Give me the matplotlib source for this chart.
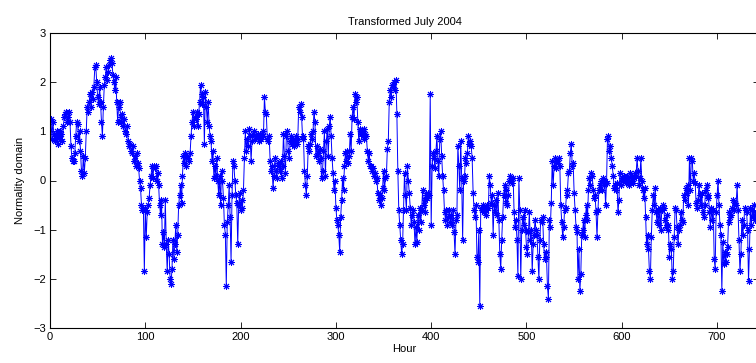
import numpy as np
import matplotlib
matplotlib.use("Agg")
import matplotlib.pyplot as plt

plt.rcParams['font.family'] = ['Liberation Sans', 'DejaVu Sans']

title = "Transformed July 2004"
xlabel = "Hour"
ylabel = "Normality domain"
xticks = [0, 100, 200, 300, 400, 500, 600, 700]
yticks = [-3, -2, -1, 0, 1, 2, 3]

# hourly values, one row per day (24 h each)
d00 = [1.25, 0.85, 1.2, 0.95, 0.8, 0.9, 1.0, 0.75, 0.9, 0.85, 1.0, 0.95, 0.8, 1.1, 1.3, 1.35, 1.4, 1.2, 1.3, 1.4, 1.2, 0.7, 0.45, 0.4]
d01 = [0.4, 0.55, 0.9, 1.2, 1.15, 0.8, 1.0, 0.6, 0.2, 0.1, 0.5, 0.15, 0.45, 1.0, 1.5, 1.4, 1.6, 1.75, 1.5, 1.8, 1.65, 1.9, 2.3, 2.35]
d02 = [2.0, 1.7, 1.55, 1.9, 1.6, 1.2, 0.9, 1.5, 1.95, 2.1, 2.3, 2.05, 2.2, 2.35, 2.45, 2.5, 2.4, 2.15, 2.0, 1.85, 2.1, 1.6, 1.2, 1.5]
d03 = [1.6, 1.3, 1.2, 1.35, 1.1, 1.25, 1.0, 0.95, 1.1, 0.8, 0.7, 0.75, 0.6, 0.55, 0.7, 0.4, 0.5, 0.3, 0.55, 0.35, 0.25, 0.0, -0.15, -0.5]
d04 = [-0.6, -0.55, -1.85, -0.6, -1.15, -0.65, -0.5, -0.35, -0.1, 0.1, 0.3, 0.05, 0.3, 0.25, 0.3, 0.0, 0.15, -0.1, -0.5, -0.7, -0.4, -1.3, -1.05, -1.35]
d05 = [-0.4, -1.3, -1.85, -1.2, -1.5, -2.0, -2.1, -1.8, -1.2, -1.6, -1.3, -0.9, -1.45, -1.1, -0.5, -0.3, -0.1, -0.45, 0.1, 0.5, 0.35, 0.55, 0.3, 0.5]
d06 = [0.45, 0.4, 0.55, 0.9, 1.2, 1.4, 1.1, 1.3, 1.25, 1.4, 1.1, 1.35, 1.6, 1.95, 1.75, 1.55, 1.7, 0.75, 1.8, 1.5, 1.2, 1.6, 1.1, 0.9]
d07 = [0.8, 0.4, 0.6, 0.05, 0.3, 0.1, 0.45, 0.0, -0.3, 0.1, -0.5, 0.2, 0.0, -0.35, -0.9, -1.1, -2.15, -0.85, -0.5, -0.1, -0.75, -1.65, -0.3, 0.4]
d08 = [0.3, 0.0, -0.3, -0.45, -1.3, -0.5, -0.25, -0.6, -0.4, -0.55, -0.2, 0.45, 1.0, 0.6, 0.85, 0.7, 1.05, 0.9, 0.4, 0.8, 0.95, 1.0, 0.85, 0.9]
d09 = [0.9, 0.95, 0.8, 0.9, 0.85, 0.95, 1.0, 0.9, 1.7, 1.4, 1.35, 0.85, 0.8, 0.9, 0.4, 0.2, 0.3, -0.15, 0.1, 0.45, 0.2, 0.05, 0.35, 0.3]
d10 = [0.2, 0.4, 0.05, 0.3, 0.95, 0.5, 0.15, 0.9, 1.0, 0.6, 0.45, 0.8, 0.9, 0.75, 0.85, 0.7, 0.8, 0.9, 0.75, 0.85, 1.5, 1.4, 1.55, 1.3]
d11 = [0.9, 0.85, 0.2, -0.1, -0.3, 0.1, 0.7, 0.6, 0.75, 0.95, 0.85, 1.0, 1.4, 1.2, 0.5, 0.7, 0.55, 0.4, 0.65, 0.45, 0.05, 0.2, 0.6, 1.0]
d12 = [0.1, 0.8, 1.05, 0.5, 1.1, 1.3, 0.9, 0.45, 0.15, -0.2, 0.0, -0.55, -0.8, -0.9, -1.1, -1.45, -0.75, -0.4, 0.05, -0.2, 0.3, 0.55, 0.4, 0.6]
d13 = [0.35, 0.5, 0.95, 0.6, 1.3, 1.5, 1.25, 1.75, 1.6, 1.7, 1.2, 0.8, 1.05, 0.95, 1.0, 0.9, 1.05, 0.85, 0.95, 0.9, 0.6, 0.4, 0.55, 0.3]
d14 = [0.3, 0.2, 0.25, 0.1, 0.15, 0.0, 0.05, -0.25, -0.4, -0.3, -0.5, -0.35, -0.15, 0.2, -0.2, 0.05, 0.1, 0.65, 0.8, 1.6, 1.85, 1.7, 1.95, 1.9]
d15 = [2.0, 1.85, 2.05, 1.35, 0.2, -0.6, -0.9, -1.2, -1.5, -1.3, -0.6, 0.15, -0.3, -0.6, 0.3, 0.0, -0.25, -0.55, -0.9, -0.7, -0.6, -0.85, -1.3, -0.95]
d16 = [-1.25, -0.7, -1.0, -0.55, -0.85, -0.6, -0.2, -0.5, -0.4, -0.65, -0.3, -0.35, -0.25, -0.3, 1.75, -0.9, 0.3, 0.55, 0.45, 0.25, 0.6, 0.9, 0.4, 0.1]
d17 = [0.85, 1.0, 0.5, 0.1, -0.2, -0.65, -0.8, -0.6, -0.9, -0.75, -0.6, -0.85, -0.7, -0.9, -0.6, -1.05, -1.5, -0.8, -0.7, 0.7, 0.3, -0.2, 0.8, 0.05]
d18 = [-1.2, 0.0, 0.1, 0.45, 0.35, 0.55, 0.9, 0.75, 0.8, 0.7, 0.45, -0.25, -0.6, -0.75, -0.5, -1.55, -1.65, -1.0, -2.55, -0.55, -0.6, -0.5, -0.65, -0.55]
d19 = [-0.7, -0.6, -0.5, -0.55, 0.1, -0.1, -0.45, -0.3, -1.1, -0.5, -0.65, -0.4, -0.7, -0.25, -0.8, -1.5, -1.8, -1.2, -0.75, -0.3, -0.1, -0.45, -0.2, -0.5]
d20 = [-0.3, 0.0, 0.1, 0.05, -0.05, 0.05, -0.65, -0.95, -0.8, -1.2, -1.95, 0.05, -0.6, -2.0, -1.0, -0.75, -0.9, -0.6, -1.0, -1.35, -1.5, -1.05, -0.65, -1.2]
d21 = [-1.0, -1.85, -1.3, -1.1, -0.8, -1.0, -1.1, -1.55, -2.0, -1.2, -0.8, -0.85, -0.75, -1.3, -1.6, -1.45, -1.55, -2.15, -2.4, -0.8, -0.95, -0.45, 0.4, -0.1]
d22 = [0.3, 0.45, 0.25, 0.4, 0.35, 0.45, 0.3, -0.5, -0.85, -1.15, -0.95, -0.6, -0.55, -0.3, -0.2, 0.15, 0.2, 0.55, 0.75, 0.3, 0.35, -0.25, -0.6, -0.95]
d23 = [-1.05, -2.0, -1.4, -2.25, -1.9, -1.1, -1.0, -0.8, -1.15, -0.7, -0.5, -0.8, -0.2, 0.05, -0.1, 0.15, 0.1, -0.2, -0.35, -0.3, -0.65, -1.15, -0.6, -0.2]
d24 = [-0.1, 0.0, -0.2, 0.05, -0.1, 0.0, -0.5, -0.05, 0.85, 0.9, 0.6, 0.7, 0.45, 0.3, 0.1, -0.15, -0.1, -0.2, -0.05, -0.65, -0.4, 0.15, -0.1, 0.05]
d25 = [0.0, 0.1, 0.05, -0.05, 0.1, 0.0, 0.05, -0.1, 0.15, 0.0, 0.1, -0.05, 0.05, 0.15, 0.1, 0.45, 0.2, -0.1, 0.05, 0.45, 0.0, -0.2, -0.35, -0.15]
d26 = [-0.75, -1.3, -1.1, -1.4, -1.85, -2.0, -1.15, -0.6, -0.3, -0.5, -0.15, -0.65, -0.85, -0.6, -0.9, -0.55, -1.0, -0.6, -0.5, -0.55, -0.8, -0.95, -0.7, -0.9]
d27 = [-1.0, -1.55, -1.3, -1.4, -2.0, -1.85, -1.15, -0.55, -0.6, -0.95, -1.3, -1.0, -0.9, -0.65, -0.8, -0.85, -0.3, -0.4, -0.15, -0.25, -0.1, -0.5, 0.45, -0.2]
d28 = [0.45, 0.4, 0.0, 0.15, -0.05, -0.45, -0.55, -0.4, -0.1, -0.3, -0.5, -0.25, -0.65, -0.75, -0.5, -0.2, -0.1, -0.35, -0.3, -0.65, -0.95, -0.55, -0.8, -0.6]
d29 = [-1.6, -1.8, -0.65, -0.3, 0.0, -0.5, -0.9, -1.1, -2.25, -1.25, -1.7, -1.45, -1.65, -1.5, -1.35, -0.85, -0.65, -0.75, -0.7, -0.55, -0.4, -0.6, -0.45, -0.5]
d30 = [-0.1, -0.6, -1.2, -1.85, -1.5, -0.8, -1.1, -0.9, -0.55, -0.6, -0.65, -1.0, -2.05, -1.4, -0.55, -0.9, -0.6, -0.75, -0.5, -0.8, -0.65, -0.7, -0.5, -0.6]

days = [d00, d01, d02, d03, d04, d05, d06, d07, d08, d09, d10, d11, d12, d13, d14, d15,
        d16, d17, d18, d19, d20, d21, d22, d23, d24, d25, d26, d27, d28, d29, d30]
values = np.concatenate([np.asarray(d, dtype=float) for d in days])
hours = np.arange(1, len(values) + 1)

fig = plt.figure(figsize=(7.56, 3.63), dpi=100)
ax = fig.add_axes([50 / 756, 35 / 363, 709 / 756, 295 / 363])

ax.plot(hours, values, color=(0, 0, 1), linewidth=0.7,
        marker=(8, 2, 0), markersize=5, markeredgewidth=0.7,
        markeredgecolor=(0, 0, 1))

ax.set_xlim(0, 744)
ax.set_ylim(-3, 3)
ax.set_xticks(xticks)
ax.set_yticks(yticks)
ax.tick_params(direction='in', length=4, width=0.6, labelsize=8, top=True, right=True, pad=3)
for s in ax.spines.values():
    s.set_linewidth(0.8)

ax.set_title(title, fontsize=8, pad=6)
ax.set_xlabel(xlabel, fontsize=8, labelpad=1)
ax.set_ylabel(ylabel, fontsize=8, labelpad=6)

fig.savefig("out.png", dpi=100)
